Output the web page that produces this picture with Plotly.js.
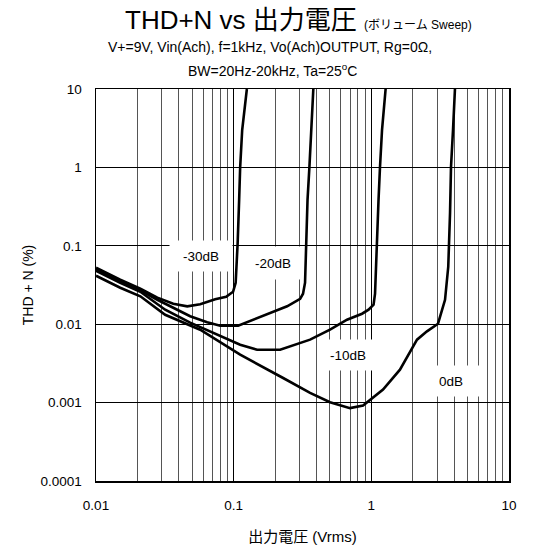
<!DOCTYPE html>
<html>
<head>
<meta charset="utf-8">
<script src="https://cdn.plot.ly/plotly-3.0.1.min.js"></script>
<style>
  html, body { margin: 0; padding: 0; background: #fff; }
  #chart { width: 542px; height: 550px; }
</style>
</head>
<body>
<div id="chart"></div>
<script>
// THD+N versus output voltage, one curve per volume setting
const seriesNames = ['-30dB', '-20dB', '-10dB', '0dB'];

const vout_m30 = [0.01, 0.015, 0.021, 0.0279, 0.0364, 0.046, 0.0571, 0.0734, 0.0882, 0.099, 0.1034, 0.1055, 0.1069, 0.1096, 0.1115, 0.1153, 0.1212, 0.1247];
const thd_m30  = [0.0525, 0.0369, 0.0283, 0.0218, 0.0182, 0.0169, 0.018, 0.0208, 0.0224, 0.0259, 0.0338, 0.0663, 0.109, 0.386, 1.01, 3.0, 7.24, 10];

const vout_m20 = [0.01, 0.015, 0.021, 0.0279, 0.0364, 0.0483, 0.0642, 0.0798, 0.1078, 0.1385, 0.175, 0.2445, 0.304, 0.319, 0.330, 0.336, 0.344, 0.355, 0.365, 0.379];
const thd_m20  = [0.0502, 0.0353, 0.0271, 0.0205, 0.0162, 0.01265, 0.0106, 0.00957, 0.00957, 0.0114, 0.0136, 0.0169, 0.0211, 0.0245, 0.0338, 0.109, 0.386, 1.01, 3.0, 10];

const vout_m10 = [0.01, 0.015, 0.021, 0.0318, 0.0483, 0.0798, 0.1115, 0.148, 0.2175, 0.359, 0.501, 0.666, 0.856, 0.955, 1.038, 1.064, 1.094, 1.128, 1.156, 1.196, 1.27];
const thd_m10  = [0.0481, 0.0338, 0.0259, 0.0153, 0.01045, 0.0070, 0.00548, 0.00473, 0.00473, 0.00635, 0.00851, 0.0114, 0.0136, 0.0153, 0.0177, 0.0245, 0.109, 0.386, 1.01, 3.0, 10];

const vout_0 = [0.01, 0.015, 0.021, 0.0318, 0.0571, 0.071, 0.1115, 0.2287, 0.359, 0.501, 0.70, 0.871, 1.216, 1.614, 2.147, 2.536, 3.05, 3.43, 3.62, 3.73, 3.79, 3.92, 4.05];
const thd_0  = [0.0415, 0.0292, 0.0227, 0.0132, 0.00851, 0.00667, 0.00409, 0.00206, 0.00133, 0.00101, 0.00085, 0.000916, 0.00147, 0.00263, 0.00635, 0.0081, 0.01014, 0.0205, 0.054, 0.263, 1.0, 3.0, 10];

// axis ticks
const xTicks = [0.01, 0.1, 1, 10];
const xTickText = ['0.01', '0.1', '1', '10'];
const yTicks = [0.0001, 0.001, 0.01, 0.1, 1, 10];
const yTickText = ['0.0001', '0.001', '0.01', '0.1', '1', '10'];

// minor grid every 1..9 within each decade
const xMinor = [];
for (let d = -2; d < 1; d++) {
  for (let k = 2; k <= 9; k++) xMinor.push(k * Math.pow(10, d));
}

const xs = [vout_m30, vout_m20, vout_m10, vout_0];
const ys = [thd_m30, thd_m20, thd_m10, thd_0];

const traces = seriesNames.map((name, i) => ({
  type: 'scatter',
  mode: 'lines',
  name: name,
  x: xs[i],
  y: ys[i],
  line: { color: '#000', width: 2.6, shape: 'linear' },
  hoverinfo: 'x+y+name'
}));

const FONT = '"Liberation Sans", Arial, "Noto Sans CJK JP", sans-serif';

// plot-area edges in figure pixels, used to place the text blocks
const L = 96, R = 509, T = 89, B = 481.5;

// curve labels on white boxes
function lbl(text, px, py, w, h) {
  return {
    text: text,
    xref: 'paper', yref: 'paper',
    x: (px - L) / (R - L), y: (B - py) / (B - T),
    xanchor: 'center', yanchor: 'middle',
    showarrow: false,
    bgcolor: '#fff',
    width: w, height: h,
    font: { family: FONT, size: 13.5, color: '#000' }
  };
}

function txt(text, px, py, size) {
  return {
    text: text,
    xref: 'paper', yref: 'paper',
    x: (px - L) / (R - L), y: (B - py) / (B - T),
    xanchor: 'center', yanchor: 'middle',
    showarrow: false,
    font: { family: FONT, size: size, color: '#000', weight: 'normal' }
  };
}

const layout = {
  width: 542,
  height: 550,
  margin: { l: 96, r: 33, t: 89, b: 68.5 },
  paper_bgcolor: '#fff',
  plot_bgcolor: '#fff',
  showlegend: false,
  font: { family: FONT, size: 13, color: '#000' },
  xaxis: {
    type: 'log',
    range: [-2, 1],
    tickmode: 'array',
    tickvals: xTicks,
    ticktext: xTickText,
    ticks: '',
    ticklabelstandoff: 11,
    tickfont: { family: FONT, size: 13.5, color: '#000' },
    showgrid: true,
    gridcolor: '#000',
    gridwidth: 1,
    minor: { tickmode: 'array', tickvals: xMinor, showgrid: true, gridcolor: '#555', gridwidth: 1, ticks: '' },
    showline: true, linecolor: '#000', linewidth: 1.5, mirror: true,
    zeroline: false,
    title: { text: '出力電圧 (Vrms)', font: { family: FONT, size: 15, color: '#000' }, standoff: 20 }
  },
  yaxis: {
    type: 'log',
    range: [-4, 1],
    tickmode: 'array',
    tickvals: yTicks,
    ticktext: yTickText,
    ticks: '',
    ticklabelstandoff: 10,
    tickfont: { family: FONT, size: 13.5, color: '#000' },
    showgrid: true,
    gridcolor: '#000',
    gridwidth: 1,
    showline: true, linecolor: '#000', linewidth: 1.5, mirror: true,
    zeroline: false,
    title: { text: 'THD + N (%)', font: { family: FONT, size: 14, color: '#000' }, standoff: 3 }
  },
  annotations: [
    txt('THD+N vs 出力電圧 <span style="font-size:12px">(ボリューム Sweep)</span>', 298, 20, 26),
    txt('V+=9V, Vin(Ach), f=1kHz, Vo(Ach)OUTPUT, Rg=0Ω,', 270, 47, 14),
    txt('BW=20Hz-20kHz, Ta=25<sup>o</sup>C', 272, 70, 14),
    lbl('-30dB', 201, 256, 60, 28),
    lbl('-20dB', 273, 263, 56, 30),
    lbl('-10dB', 348, 355, 56, 28),
    lbl('0dB', 451, 381, 56, 28)
  ]
};

Plotly.newPlot('chart', traces, layout, { displayModeBar: false, staticPlot: true });
</script>
</body>
</html>
